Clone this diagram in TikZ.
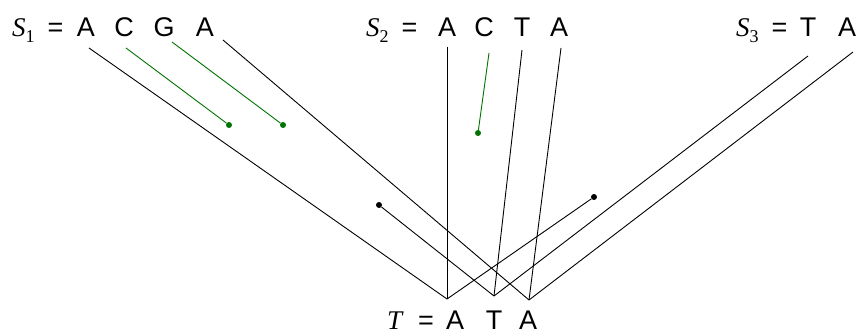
\documentclass[tikz,border=0pt]{standalone}
\usepackage{fontspec}
\setmainfont{Liberation Sans}
\newfontfamily\serifit{Liberation Serif}[ItalicFont=*, UprightFont=* Italic]
\newfontfamily\serifrm{Liberation Serif}
\newcommand{\seqlbl}[2]{{\serifit #1}\raisebox{-6pt}{\fontsize{18}{18}\selectfont\serifrm #2}\hspace{13pt}=}
\begin{document}
\begin{tikzpicture}[x=1pt, y=-1pt,
    letter/.style={anchor=base, inner sep=0pt, font=\fontsize{27}{31}\selectfont},
    seqname/.style={anchor=base west, inner sep=0pt, font=\fontsize{27}{31}\selectfont},
    link/.style={line width=0.9pt, black},
    gaplink/.style={line width=0.9pt, green!45!black},
    gapdot/.style={circle, fill=black, inner sep=0pt, minimum size=6pt},
    greendot/.style={gapdot, fill=green!45!black}
]
\useasboundingbox (0,0) rectangle (859,336);

% Sequence S1
\node[seqname] (s1) at (12,37) {\seqlbl{S}{1}};
\node[letter] (s1a) at (86,37) {A};
\node[letter] (s1c) at (124,37) {C};
\node[letter] (s1g) at (164,37) {G};
\node[letter] (s1b) at (205,37) {A};

% Sequence S2
\node[seqname] (s2) at (366,37) {\seqlbl{S}{2}};
\node[letter] (s2a) at (447,37) {A};
\node[letter] (s2c) at (484,37) {C};
\node[letter] (s2t) at (522,37) {T};
\node[letter] (s2b) at (559,37) {A};

% Sequence S3
\node[seqname] (s3) at (736,37) {\seqlbl{S}{3}};
\node[letter] (s3t) at (808,37) {T};
\node[letter] (s3a) at (847,37) {A};

% Target T
\node[seqname] (t) at (387,330) {{\serifit T}\hspace{16pt}=};
\node[letter] (ta) at (455,330) {A};
\node[letter] (tt) at (494,330) {T};
\node[letter] (tb) at (528,330) {A};

% Line ends
\coordinate (p1a) at (89,48);
\coordinate (p1c) at (126,48);
\coordinate (p1g) at (172,42);
\coordinate (p1b) at (223,40);
\coordinate (p2a) at (447,47);
\coordinate (p2c) at (489,53);
\coordinate (p2t) at (522,50);
\coordinate (p2b) at (561,48);
\coordinate (p3t) at (808,56);
\coordinate (p3a) at (853,52);
\coordinate (va) at (447,299);
\coordinate (vt) at (494,296);
\coordinate (vb) at (529,300);

% Gaps
\node[greendot] (g1c) at (229,125) {};
\node[greendot] (g1g) at (283,125) {};
\node[greendot] (g2c) at (478,133) {};
\node[gapdot] (g1t) at (379,205) {};
\node[gapdot] (g3a) at (594,197) {};

% Alignment lines
\draw[link] (p1a) -- (va);
\draw[link] (p2a) -- (va);
\draw[link] (g3a) -- (va);
\draw[link] (g1t) -- (vt);
\draw[link] (p2t) -- (vt);
\draw[link] (p3t) -- (vt);
\draw[link] (p1b) -- (vb);
\draw[link] (p2b) -- (vb);
\draw[link] (p3a) -- (vb);
\draw[gaplink] (p1c) -- (g1c);
\draw[gaplink] (p1g) -- (g1g);
\draw[gaplink] (p2c) -- (g2c);

\end{tikzpicture}
\end{document}
